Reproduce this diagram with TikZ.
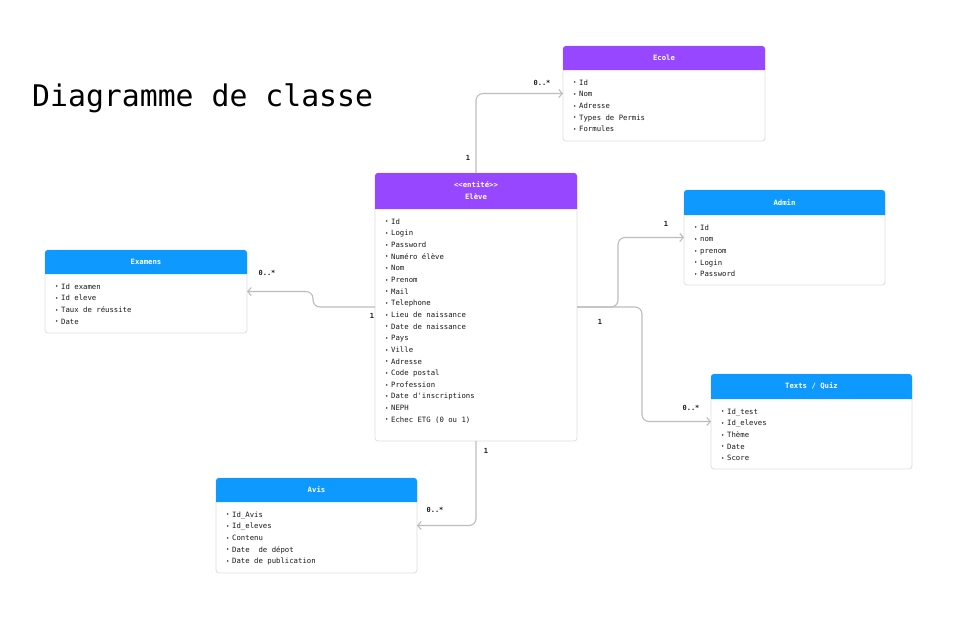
\documentclass[tikz,border=0pt]{standalone}
\usepackage{fontspec}
\setmainfont{DejaVu Sans Mono}[Ligatures=NoCommon]
\usetikzlibrary{arrows.meta}
\definecolor{purp}{HTML}{9747FF}
\definecolor{blu}{HTML}{0D99FF}
\definecolor{frameg}{HTML}{DDDDDD}
\definecolor{lineg}{HTML}{BDBDBD}
\definecolor{txt}{HTML}{1A1A1A}
\newcommand\itm{\makebox[6pt][l]{\raisebox{0.3pt}{\scalebox{0.75}{•}}}}
\newcommand\classbox[9]{%
  \node[frame, minimum width=#4pt, minimum height=#5pt, anchor=north west] (#1) at (#2,#3) {};
  \fill[#7] (#2,#3+#6) [rounded corners=3pt] -- (#2,#3) -- (#2+#4,#3) [sharp corners] -- (#2+#4,#3+#6) -- cycle;
  \node[head] (#1-t) at (#2+#4/2,#3+#6/2) {#8};
  \foreach \t [count=\i] in {#9} {
    \node[item] (#1-\i) at (#2+10,#3+#6+12.5+\i*11.65-11.65+2.7) {\itm\t};
  }%
}
\begin{document}
\begin{tikzpicture}[x=1pt,y=-1pt,
  frame/.style={draw=frameg, line width=0.8pt, fill=white, rounded corners=3pt, inner sep=0pt, outer sep=0pt},
  head/.style={text=white, font=\bfseries\fontsize{7.3}{12}\selectfont, align=center, inner sep=0pt},
  item/.style={text=txt, font=\fontsize{7.3}{9}\selectfont, anchor=base west, inner sep=0pt},
  lbl/.style={text=txt, font=\bfseries\fontsize{7}{8}\selectfont, inner sep=0pt},
  conn/.style={draw=lineg, line width=1.1pt, rounded corners=7pt, -{Straight Barb[length=3.5pt,width=8pt]}}]
\useasboundingbox (0,0) rectangle (966,619);
\fill[white] (0,0) rectangle (966,619);
\node[anchor=base west, inner sep=0pt, text=black, font=\fontsize{29.8}{32}\selectfont] (title) at (32,106) {Diagramme de classe};

\classbox{ecole}{563}{46}{202}{95}{24}{purp}{Ecole}{Id,Nom,Adresse,Types de Permis,Formules}
\classbox{eleve}{375}{173}{202}{268}{36}{purp}{<{}<entité>{}>\\Elève}{Id,Login,Password,Numéro élève,Nom,Prenom,Mail,Telephone,Lieu de naissance,Date de naissance,Pays,Ville,Adresse,Code postal,Profession,Date d\textquotesingle inscriptions,NEPH,Echec ETG (0 ou 1)}
\classbox{examens}{45}{250}{202}{83}{24}{blu}{Examens}{Id examen,Id eleve,Taux de réussite,Date}
\classbox{admin}{684}{190}{201}{95}{25}{blu}{Admin}{Id,nom,prenom,Login,Password}
\classbox{texts}{711}{374}{201}{95}{25}{blu}{Texts / Quiz}{Id\_test,Id\_eleves,Thème,Date,Score}
\classbox{avis}{216}{478}{201}{95}{24}{blu}{Avis}{Id\_Avis,Id\_eleves,Contenu,Date\ \ de dépot,Date de publication}

\draw[conn] (eleve.north) |- (ecole.west);
\draw[conn] (eleve.west) -- ++(-62,0) |- (examens.east);
\draw[conn] (eleve.east) -- ++(41,0) |- (admin.west);
\draw[conn] (eleve.east) -- ++(65,0) |- (texts.west);
\draw[conn] (eleve.south) |- (avis.east);

\node[lbl] (l1) at (468,158) {1};
\node[lbl] (l2) at (542,83) {0..*};
\node[lbl] (l3) at (267,273) {0..*};
\node[lbl] (l4) at (372,316) {1};
\node[lbl] (l5) at (666,224) {1};
\node[lbl] (l6) at (600,322) {1};
\node[lbl] (l7) at (691,408) {0..*};
\node[lbl] (l8) at (486,451) {1};
\node[lbl] (l9) at (435,510) {0..*};
\end{tikzpicture}
\end{document}
